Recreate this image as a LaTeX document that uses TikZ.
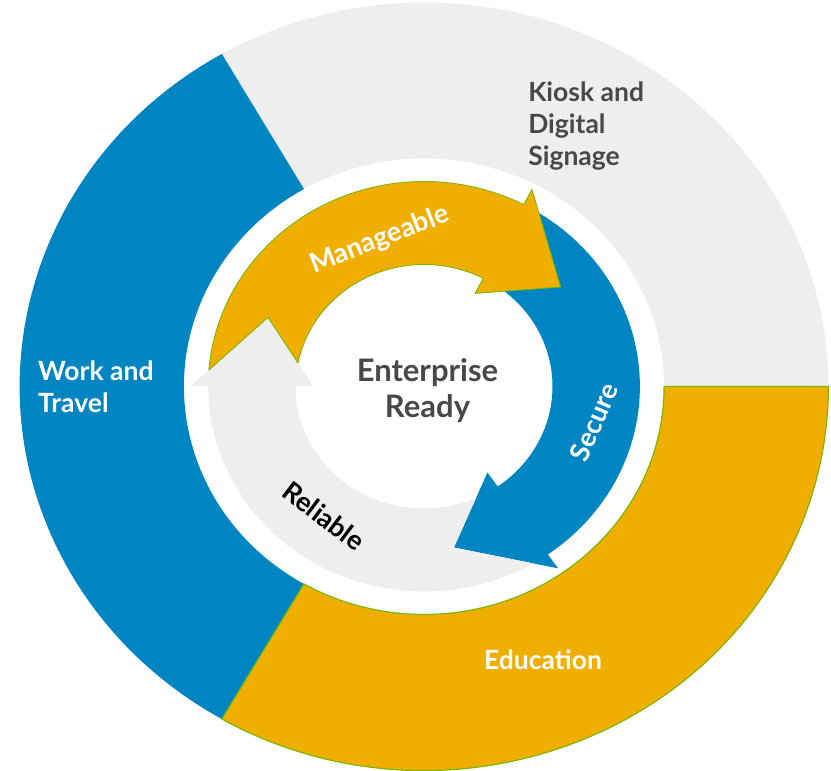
\documentclass[tikz,border=0pt]{standalone}
\usepackage{fontspec}
\setmainfont{Lato}
\definecolor{dellblue}{RGB}{0,133,195}
\definecolor{dellyellow}{RGB}{240,175,0}
\definecolor{palegrey}{RGB}{238,238,238}
\definecolor{limegreen}{RGB}{122,184,0}
\definecolor{darktext}{RGB}{72,72,72}
\begin{document}
\begin{tikzpicture}[
      x=1pt, y=1pt, xscale=1.053,
      yellowpart/.style={fill=dellyellow, draw=limegreen, line width=1.2pt, line join=round},
      bluepart/.style={fill=dellblue},
      greypart/.style={fill=palegrey},
      outerlabel/.style={font=\bfseries\fontsize{26.5}{32}\selectfont, align=left, inner sep=0pt},
      arrowlabel/.style={font=\bfseries\fontsize{27}{30}\selectfont, inner sep=0pt}
    ]
    \useasboundingbox (-402.7,-384.5) rectangle (386.5,386.5);

    % Outer segments
    \fill[greypart] (0:228) -- (0:384) arc[start angle=0, end angle=120, radius=384] -- (120:228) arc[start angle=120, end angle=0, radius=228] -- cycle;
    \fill[bluepart] (120:228) -- (120:384) arc[start angle=120, end angle=240, radius=384] -- (240:228) arc[start angle=240, end angle=120, radius=228] -- cycle;
    \filldraw[yellowpart] (-120:228) -- (-120:384) arc[start angle=-120, end angle=0, radius=384] -- (0:228) arc[start angle=0, end angle=-120, radius=228] -- cycle;

    % Inner arrows
    \fill[bluepart] (57.87:205) arc[start angle=57.87, end angle=-55, radius=205] -- (-55:222) -- (-80:163.5) -- (-55:105) -- (-55:122) arc[start angle=-55, end angle=51.38, radius=122] -- (37.5:163.5) -- cycle;
    \fill[greypart] (-59.63:205) arc[start angle=-59.63, end angle=-180, radius=205] -- (-180:222) -- (-205:163.5) -- (-180:105) -- (-180:122) arc[start angle=-180, end angle=-66.12, radius=122] -- (-80:163.5) -- cycle;
    \filldraw[yellowpart, line width=0.9pt] (175.37:205) arc[start angle=175.37, end angle=62.5, radius=205] -- (62.5:222) -- (37.5:163.5) -- (62.5:105) -- (62.5:122) arc[start angle=62.5, end angle=168.88, radius=122] -- (155:163.5) -- cycle;

    % Segment labels
    \node[outerlabel, text=darktext, anchor=west] (kiosk) at (98.8,260) {Kiosk and\\Digital\\Signage};
    \node[outerlabel, text=white, anchor=west] (work) at (-366.6,-0.5) {Work and\\Travel};
    \node[outerlabel, text=white] (education) at (113,-273.5) {Education};

    % Centre
    \node[font=\bfseries\fontsize{31}{36}\selectfont, text=darktext, align=center, inner sep=0pt] (enterprise) at (3.3,-4.5) {Enterprise\\Ready};

    % Arrow labels
    \node[arrowlabel, text=white, rotate=21] (manageable) at (106:152.6) {Manageable};
    \node[arrowlabel, text=white, rotate=67] (secure) at (-12.4:165) {Secure};
    \node[arrowlabel, text=black, rotate=-37] (reliable) at (233.7:160.6) {Reliable};
\end{tikzpicture}
\end{document}
